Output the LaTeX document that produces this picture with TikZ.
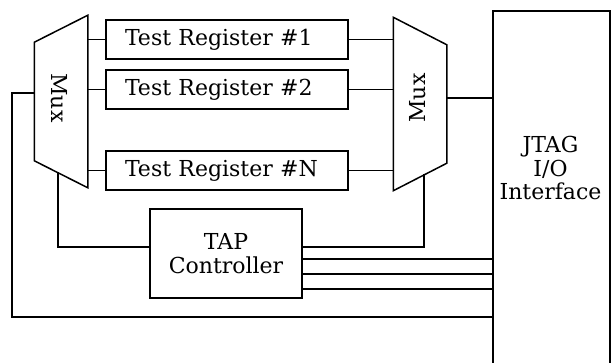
\documentclass[tikz,border=0pt]{standalone}
\usepackage{fontspec}
\setmainfont{DejaVu Serif}

\begin{document}
\begin{tikzpicture}[x=1pt,y=-1pt,line width=1.5pt,
    box/.style={draw, inner sep=0pt},
    muxbox/.style={inner sep=0pt, minimum width=52pt},
    lbl/.style={font=\fontsize{22}{24.5}\selectfont, align=center},
    register/.style={box, lbl, minimum width=242pt, minimum height=39pt, text width=204pt, align=left}]
    \useasboundingbox (0,0) rectangle (613,362);
    \node[muxbox, minimum height=171pt] (lmux) at (61,101.5) {};
    \node[muxbox, minimum height=172pt] (rmux) at (420,104) {};
    \draw (lmux.north east) -- (lmux.south east) -- ([yshift=27pt]lmux.south west) -- ([yshift=-27pt]lmux.north west) -- cycle;
    \draw (rmux.north west) -- (rmux.south west) -- ([yshift=27.5pt]rmux.south east) -- ([yshift=-27.5pt]rmux.north east) -- cycle;
    \node[lbl, rotate=-90] (lmuxlbl) at (59,98) {Mux};
    \node[lbl, rotate=90] (rmuxlbl) at (418,98) {Mux};
    \node[register] (reg1) at (227,39.5) {Test Register \#1};
    \node[register] (reg2) at (227,89.5) {Test Register \#2};
    \node[register] (regN) at (227,170.5) {Test Register \#N};
    \node[box, minimum width=117pt, minimum height=370pt, anchor=north west] (jtag) at (492,10) {};
    \node[lbl, font=\fontsize{22}{23.5}\selectfont] (jtaglbl) at (550.5,168) {JTAG\\I/O\\Interface};
    \node[box, lbl, minimum width=152pt, minimum height=89pt] (tap) at (226,253.5) {TAP\\Controller};
    \coordinate (lmuxbot) at (58,172);
    \coordinate (rmuxbot) at (424,174.4);
    \coordinate (loopleft) at (12,317);
    \foreach \r in {reg1,reg2,regN} {
      \draw (lmux.east |- \r.west) -- (\r.west);
      \draw (\r.east) -- (rmux.west |- \r.east);
    }
    \draw ([yshift=6pt]rmux.east) -- ([yshift=6pt]rmux.east -| jtag.west);
    \draw (lmuxbot) |- ([yshift=6.5pt]tap.west);
    \draw (rmuxbot) |- ([yshift=6.5pt]tap.east);
    \foreach \s in {5.5,20.5,35.5}
      \draw ([yshift=-\s pt]tap.east) -- ([yshift=-\s pt]tap.east -| jtag.west);
    \draw ([yshift=8.5pt]lmux.west) -| (loopleft) -- (loopleft -| jtag.west);
\end{tikzpicture}
\end{document}
